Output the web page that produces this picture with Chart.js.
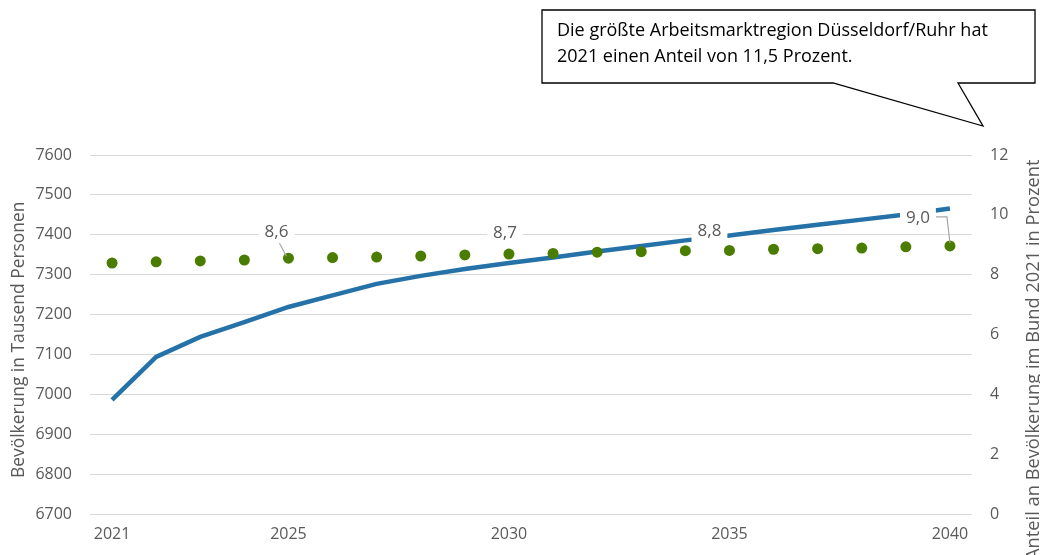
<!DOCTYPE html>
<html>
<head>
<meta charset="utf-8">
<script src="https://cdn.jsdelivr.net/npm/chart.js@4.4.1/dist/chart.umd.min.js"></script>
<style>
  html, body { margin: 0; padding: 0; background: #fff; }
  #wrap { position: relative; width: 1040px; height: 555px; overflow: hidden; font-family: 'Open Sans', sans-serif; }
  #c { position: absolute; left: 0; top: 0; }
  .ytitle { position: absolute; white-space: nowrap; color: #595959; line-height: 24px; transform-origin: 0 0; transform: rotate(-90deg); }
  #callout { position: absolute; left: 0; top: 0; }
  #calloutText { position: absolute; left: 557px; top: 16px; font-size: 18px; line-height: 26px; color: #000; white-space: nowrap; }
</style>
</head>
<body>
<div id="wrap">
  <canvas id="c" width="1040" height="555"></canvas>
  <svg id="callout" width="1040" height="555">
    <polygon points="542,10 1035,10 1035,83 958,83 983,126 833,83 542,83" fill="#fff" stroke="#000" stroke-width="1.3"/>
  </svg>
  <div id="calloutText">Die größte Arbeitsmarktregion Düsseldorf/Ruhr hat<br>2021 einen Anteil von 11,5 Prozent.</div>
  <div class="ytitle" id="tl" style="left:5px; top:478px; font-size:17.4px;">Bevölkerung in Tausend Personen</div>
  <div class="ytitle" id="tr" style="left:1020px; top:560px; font-size:18.3px;">Anteil an Bevölkerung im Bund 2021 in Prozent</div>
</div>
<script>
const years = ['2021','2022','2023','2024','2025','2026','2027','2028','2029','2030','2031','2032','2033','2034','2035','2036','2037','2038','2039','2040'];
const population = [6986, 7094, 7144, 7181, 7219, 7248, 7277, 7297, 7314, 7329, 7343, 7358, 7372, 7386, 7398, 7412, 7425, 7438, 7451, 7466];
const share = [8.39, 8.43, 8.46, 8.49, 8.55, 8.57, 8.59, 8.62, 8.66, 8.69, 8.71, 8.75, 8.77, 8.80, 8.81, 8.85, 8.87, 8.89, 8.93, 8.96];
const shownYearTicks = ['2021','2025','2030','2035','2040'];
const leftTicks = [6700, 6800, 6900, 7000, 7100, 7200, 7300, 7400, 7500, 7600];
const rightTicks = [0, 2, 4, 6, 8, 10, 12];
const labeledIdx = [4, 9, 14, 19];

const TXT = '#595959';
const FONT = { family: "'Open Sans', sans-serif", size: 16 };

// label placement (pixel offsets relative to point)
const labelLayout = {
  4:  { dx: -12, dy: -27, leader: 'straight' },
  9:  { dx: -4,  dy: -22, leader: null },
  14: { dx: -20, dy: -20, leader: null },
  19: { dx: -32, dy: -29, leader: 'bent' }
};

const shareLabels = {
  id: 'shareLabels',
  afterDatasetsDraw(chart) {
    const ctx = chart.ctx;
    const meta = chart.getDatasetMeta(1);
    ctx.save();
    ctx.font = "17px 'Open Sans', sans-serif";
    ctx.textAlign = 'center';
    ctx.textBaseline = 'middle';
    labeledIdx.forEach(i => {
      const p = meta.data[i];
      const L = labelLayout[i];
      const txt = (Math.round(share[i] * 10) / 10).toFixed(1).replace('.', ',');
      const cx = p.x + L.dx, cy = p.y + L.dy;
      const w = ctx.measureText(txt).width;
      ctx.strokeStyle = '#a6a6a6';
      ctx.lineWidth = 1.2;
      if (L.leader === 'straight') {
        ctx.beginPath(); ctx.moveTo(cx + 2, cy + 10); ctx.lineTo(p.x - 2, p.y - 2); ctx.stroke();
      } else if (L.leader === 'bent') {
        ctx.beginPath(); ctx.moveTo(cx + w/2 + 6, cy); ctx.lineTo(p.x - 3, cy); ctx.lineTo(p.x, p.y - 3); ctx.stroke();
      }
      ctx.fillStyle = '#fff';
      ctx.fillRect(cx - w/2 - 6, cy - 12, w + 12, 24);
      ctx.fillStyle = TXT;
      ctx.fillText(txt, cx, cy + 1);
    });
    ctx.restore();
  }
};

new Chart(document.getElementById('c'), {
  type: 'line',
  data: {
    labels: years,
    datasets: [
      {
        label: 'Bevölkerung',
        data: population,
        yAxisID: 'y',
        borderColor: '#2472a8',
        backgroundColor: '#2472a8',
        borderWidth: 4.5,
        pointRadius: 0,
        tension: 0,
        order: 2
      },
      {
        label: 'Anteil',
        data: share,
        yAxisID: 'y1',
        showLine: false,
        pointRadius: 5.5,
        pointBackgroundColor: '#4a7c00',
        pointBorderColor: '#4a7c00',
        pointBorderWidth: 0,
        order: 1
      }
    ]
  },
  options: {
    responsive: false,
    devicePixelRatio: 1,
    animation: false,
    layout: { padding: { top: 155, left: 0, right: 0, bottom: 0 } },
    plugins: { legend: { display: false }, tooltip: { enabled: false } },
    scales: {
      x: {
        type: 'category',
        offset: true,
        grid: { display: false, drawTicks: false },
        border: { display: false },
        ticks: {
          autoSkip: false, maxRotation: 0, color: TXT, font: FONT, padding: 11,
          callback: function(v, i) { const l = this.getLabelForValue(v); return shownYearTicks.includes(l) ? l : ''; }
        },
        afterFit(s) { s.height = 41; }
      },
      y: {
        position: 'left',
        min: 6700, max: 7600,
        afterBuildTicks(s) { s.ticks = leftTicks.map(v => ({ value: v })); },
        grid: { color: '#d9d9d9', lineWidth: 1, drawTicks: false },
        border: { display: false },
        ticks: { color: TXT, font: FONT, padding: 18, callback: v => String(v) },
        afterFit(s) { s.width = 90; }
      },
      y1: {
        position: 'right',
        min: 0, max: 12,
        afterBuildTicks(s) { s.ticks = rightTicks.map(v => ({ value: v })); },
        grid: { display: false, drawTicks: false },
        border: { display: false },
        ticks: { color: TXT, font: FONT, padding: 18, callback: v => String(v) },
        afterFit(s) { s.width = 68; }
      }
    }
  },
  plugins: [shareLabels]
});
</script>
</body>
</html>
